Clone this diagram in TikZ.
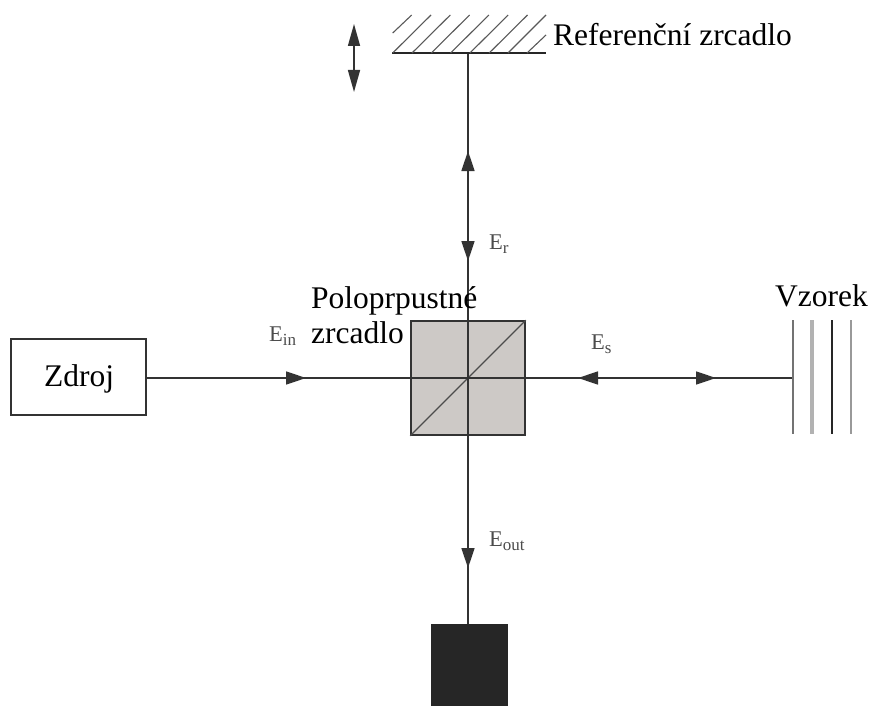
\documentclass[tikz,border=0pt]{standalone}
\usepackage{fontspec}
\setmainfont{Liberation Serif}
\usetikzlibrary{arrows.meta}
\definecolor{cube}{RGB}{205,201,198}
\newcommand\bigtxt{\fontsize{31.5}{38}\selectfont}
\newcommand\esub[2]{\fontsize{22.5}{22.5}\selectfont #1\raisebox{-4.5pt}{\fontsize{17}{17}\selectfont #2}}
\tikzset{
  beam/.style={draw=black!80,line width=1.5pt},
  tip/.style={beam,-{Triangle[length=20pt,width=13pt]}},
  lab/.style={inner sep=0pt,text=black,anchor=base west,align=left},
  small/.style={inner sep=0pt,text=black!70,anchor=base west},
  hatch/.style={draw=black!65,line width=1.1pt},
  plate/.style={line width=#1,line cap=butt},
}
\begin{document}
\begin{tikzpicture}[x=1pt,y=-1pt]
\useasboundingbox[fill=white] (0,0) rectangle (870,706);
% nodes
\node[draw=black!80,line width=1.4pt,fill=white,minimum width=135pt,minimum height=76pt,inner sep=0pt] (src) at (78.5,377) {};
\node[lab] (srctxt) at (44,386) {\bigtxt Zdroj};
\node[draw=black!80,line width=1.6pt,fill=cube,minimum size=114pt,inner sep=0pt] (bs) at (468,378) {};
\node[fill=black!85,minimum width=77pt,minimum height=82pt,inner sep=0pt] (det) at (469.5,665) {};
\coordinate (mirror) at (468,53);
\coordinate (samp) at (793,378);
\coordinate (srcout) at (src.east |- bs.center);
\coordinate (detin) at (bs.center |- det.north);
% splitter diagonal
\draw[draw=black!70,line width=1.1pt] (bs.south west) -- (bs.north east);
% beams
\draw[beam] (srcout) -- (bs.center);
\draw[tip] (srcout) -- (306,378);
\draw[beam] (bs.center) -- (samp);
\draw[tip] (samp) -- (578,378);
\draw[tip] (bs.center) -- (716,378);
\draw[beam] (mirror) -- (bs.center);
\draw[tip] (bs.center) -- (468,151);
\draw[tip] (mirror) -- (468,261);
\draw[beam] (bs.center) -- (detin);
\draw[tip] (bs.center) -- (468,568);
% reference mirror
\draw[draw=black!85,line width=1.5pt] (392,53) -- (546,53);
\draw[hatch] (392.7,33) -- (411.7,15);
\foreach \i in {0,...,5}{\draw[hatch] ({392.7+19.3*\i},53) -- ({431+19.3*\i},15);}
\draw[hatch] (508,53) -- (546,15);
\draw[hatch] (527,53) -- (546,35);
% movement arrow
\coordinate (mvt) at (354,24);
\coordinate (mvb) at (354,92);
\draw[beam,{Triangle[length=22pt,width=12pt]}-{Triangle[length=22pt,width=12pt]}] (mvt) -- (mvb);
% sample plates
\draw[draw=black!55,plate=1.6pt] (793,320) -- (793,434);
\draw[draw=black!30,plate=3.2pt] (812,320) -- (812,434);
\draw[draw=black!85,plate=1.6pt] (832,320) -- (832,434);
\draw[draw=black!40,plate=2pt] (851,320) -- (851,434);
% labels
\node[lab] (tref) at (553,46) {\bigtxt Referenční zrcadlo};
\node[lab] (tvz) at (775,306) {\bigtxt Vzorek};
\node[lab] (tpo1) at (311,308) {\bigtxt Poloprpustné};
\node[lab] (tpo2) at (311,343) {\bigtxt zrcadlo};
\node[small] (er) at (489,249) {\esub{E}{r}};
\node[small] (ein) at (269,341) {\esub{E}{in}};
\node[small] (es) at (591,349) {\esub{E}{s}};
\node[small] (eo) at (489,546) {\esub{E}{out}};
\end{tikzpicture}
\end{document}
